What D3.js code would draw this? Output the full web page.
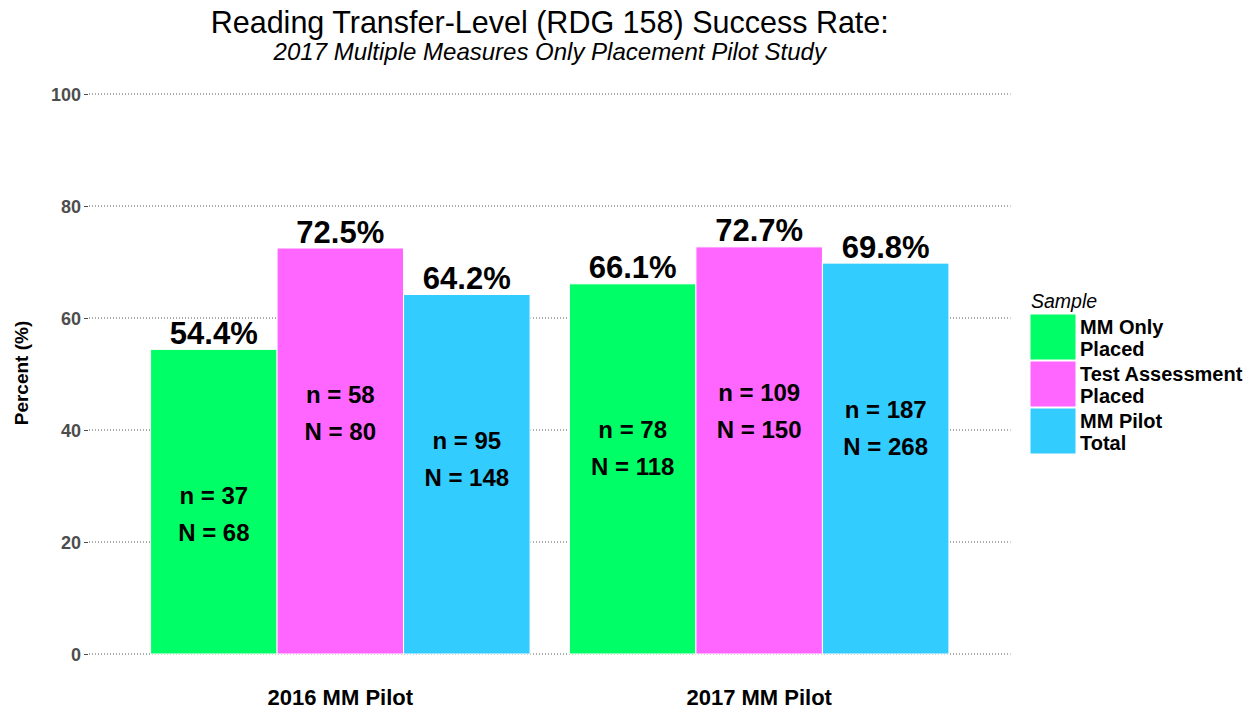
<!DOCTYPE html>
<html><head><meta charset="utf-8">
<script src="https://cdn.jsdelivr.net/npm/d3@7"></script>
<style>body{margin:0;background:#fff}svg{display:block;font-family:"Liberation Sans",Arial,sans-serif}</style>
</head><body><svg id="c" width="1252" height="709"></svg>
<script>
const groups = ["2016 MM Pilot", "2017 MM Pilot"];
const samples = ["MM Only Placed", "Test Assessment Placed", "MM Pilot Total"];
const legendLines = [["MM Only","Placed"],["Test Assessment","Placed"],["MM Pilot","Total"]];
const colors = ["#00FF66", "#FF66FF", "#33CCFF"];
const rates2016 = [54.4, 72.5, 64.2];
const rates2017 = [66.1, 72.7, 69.8];
const n2016 = [37, 58, 95];
const N2016 = [68, 80, 148];
const n2017 = [78, 109, 187];
const N2017 = [118, 150, 268];
const yTicks = [0, 20, 40, 60, 80, 100];

(function(){
const data = [];
[[rates2016, n2016, N2016], [rates2017, n2017, N2017]].forEach((arr, gi) => {
  samples.forEach((s, si) => data.push({group: groups[gi], sample: s, si, rate: arr[0][si], n: arr[1][si], N: arr[2][si]}));
});

const svg = d3.select("#c");
const pl = 89, pr = 1010.5, pt = 94, pb = 654;
// ggplot-like discrete scale: unit spacing with 0.6 expansion each side
const unit = (pr - pl) / 2.2;
const x0 = d3.scalePoint().domain(groups).range([pl + unit * 0.6, pr - unit * 0.6]);
const x1 = d3.scaleBand().domain(samples).range([-0.453 * unit, 0.453 * unit]);
const y = d3.scaleLinear().domain([0, 100]).range([pb, pt]);
const color = d3.scaleOrdinal().domain(samples).range(colors);

// grid
svg.append("g").selectAll("line").data(yTicks).join("line")
  .attr("x1", pl).attr("x2", pr)
  .attr("y1", d => y(d)).attr("y2", d => y(d))
  .attr("stroke", "#555").attr("stroke-width", 1).attr("stroke-dasharray", "1,2");

// y axis
const yAxis = d3.axisLeft(y).tickValues(yTicks).tickSize(4).tickPadding(3);
const ya = svg.append("g").attr("transform", `translate(${pl - 1},0)`).call(yAxis);
ya.select(".domain").remove();
ya.selectAll(".tick line").attr("stroke", "#4d4d4d");
ya.selectAll(".tick text").attr("fill", "#4d4d4d").attr("font-size", 18).attr("font-weight", "bold")
  .attr("font-family", "Liberation Sans, Arial, sans-serif").attr("dy", "0.36em");

// bars
svg.append("g").selectAll("rect").data(data).join("rect")
  .attr("x", d => x0(d.group) + x1(d.sample))
  .attr("width", x1.bandwidth())
  .attr("y", d => y(d.rate))
  .attr("height", d => y(0) - y(d.rate))
  .attr("fill", d => color(d.sample))
  .attr("stroke", "#fff").attr("stroke-width", 1);

const cx = d => x0(d.group) + x1(d.sample) + x1.bandwidth() / 2;
// percent labels
svg.append("g").selectAll("text").data(data).join("text")
  .attr("x", cx).attr("y", d => y(d.rate) - 5.5)
  .attr("text-anchor", "middle").attr("font-size", 31).attr("font-weight", "bold")
  .text(d => d.rate.toFixed(1) + "%");
// n labels
svg.append("g").selectAll("text").data(data).join("text")
  .attr("x", cx).attr("y", d => y(d.rate - 27.6))
  .attr("text-anchor", "middle").attr("font-size", 24).attr("font-weight", "bold")
  .text(d => "n = " + d.n);
svg.append("g").selectAll("text").data(data).join("text")
  .attr("x", cx).attr("y", d => y(d.rate - 34.2))
  .attr("text-anchor", "middle").attr("font-size", 24).attr("font-weight", "bold")
  .text(d => "N = " + d.N);

// x labels
svg.append("g").selectAll("text").data(groups).join("text")
  .attr("x", d => x0(d)).attr("y", 705)
  .attr("text-anchor", "middle").attr("font-size", 22).attr("font-weight", "bold")
  .text(d => d);

// y title
svg.append("text").attr("transform", "translate(28,373) rotate(-90)")
  .attr("text-anchor", "middle").attr("font-size", 19).attr("font-weight", "bold").text("Percent (%)");

// titles
const mid = (pl + pr) / 2;
svg.append("text").attr("x", mid).attr("y", 33).attr("text-anchor", "middle")
  .attr("font-size", 30.5).text("Reading Transfer-Level (RDG 158) Success Rate:");
svg.append("text").attr("x", mid).attr("y", 60).attr("text-anchor", "middle")
  .attr("font-size", 24).attr("font-style", "italic").text("2017 Multiple Measures Only Placement Pilot Study");

// legend
const lg = svg.append("g");
lg.append("text").attr("x", 1031).attr("y", 308).attr("font-size", 19.5).attr("font-style", "italic").text("Sample");
const ky = [314, 361, 408];
lg.selectAll("rect").data(samples).join("rect")
  .attr("x", 1030).attr("y", (d, i) => ky[i]).attr("width", 46).attr("height", 46)
  .attr("fill", d => color(d)).attr("stroke", "#fff").attr("stroke-width", 1);
legendLines.forEach((ls, i) => {
  ls.forEach((l, j) => {
    lg.append("text").attr("x", 1080).attr("y", ky[i] + 20 + j * 22)
      .attr("font-size", 20).attr("font-weight", "bold").text(l);
  });
});
})();
</script></body></html>
